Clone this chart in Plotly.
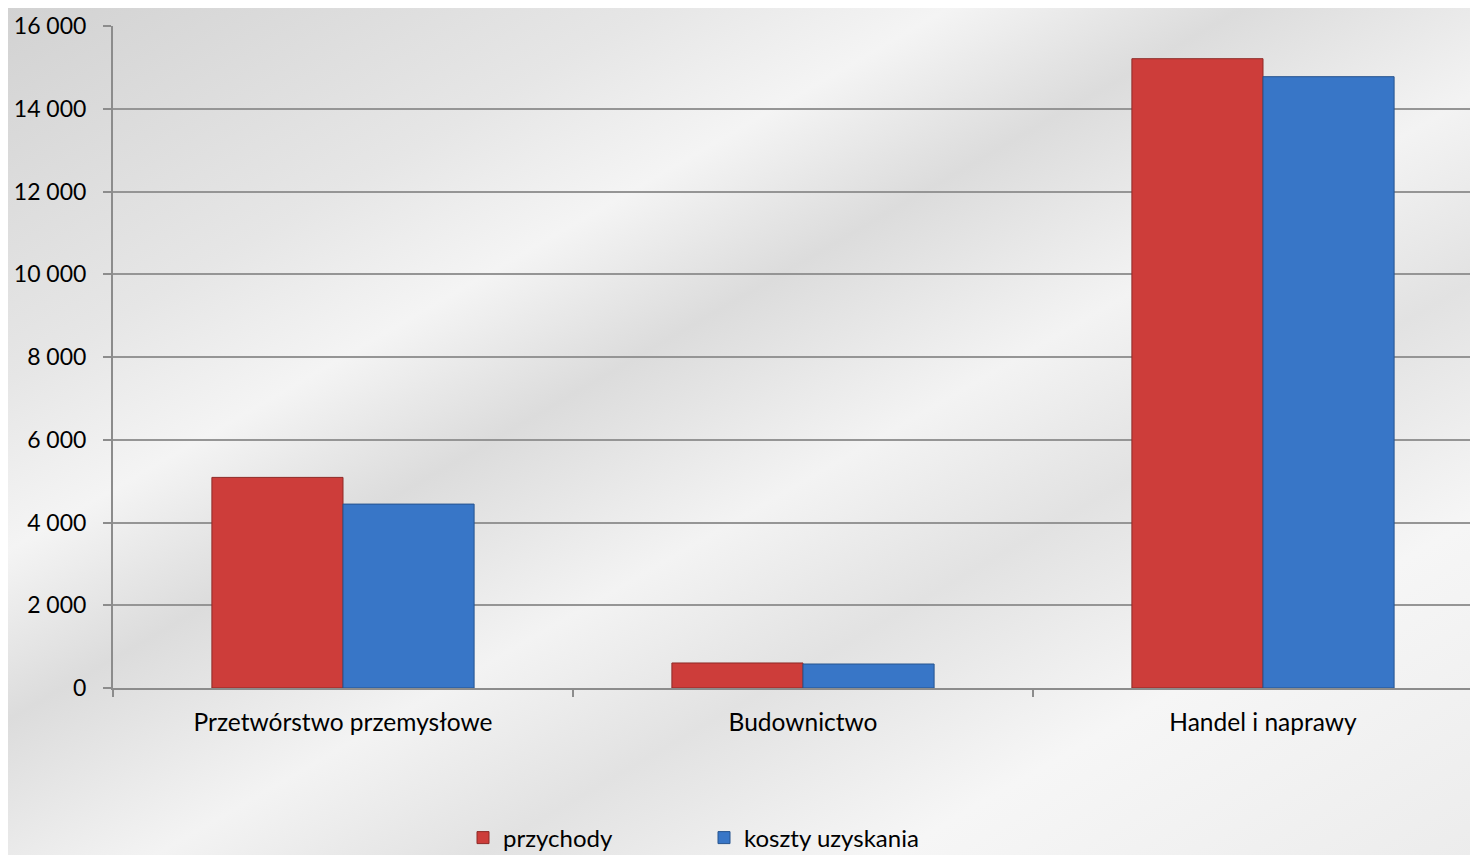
import base64
import plotly.graph_objects as go

categories = ["Przetwórstwo przemysłowe", "Budownictwo", "Handel i naprawy"]
przychody = [5090, 605, 15210]
koszty = [4445, 580, 14775]
series_names = ["przychody", "koszty uzyskania"]
tick_vals = [0, 2000, 4000, 6000, 8000, 10000, 12000, 14000, 16000]
tick_text = ["0", "2 000", "4 000", "6 000", "8 000", "10 000", "12 000", "14 000", "16 000"]

# page body has an 8px margin, so the figure is shifted by 8px
W, H = 1470, 847
ML, MR, MT, MB = 105, 0, 18, 167
PW, PH = W - ML - MR, H - MT - MB

svg = f'''<svg xmlns="http://www.w3.org/2000/svg" width="{W}" height="{H}" viewBox="0 0 {W} {H}" preserveAspectRatio="none">
<defs><linearGradient id="g" x1="0" y1="0" x2="1" y2="1">
<stop offset="0" stop-color="#d2d2d2"/>
<stop offset="0.22" stop-color="#e6e6e6"/>
<stop offset="0.32" stop-color="#f4f4f4"/>
<stop offset="0.42" stop-color="#dcdcdc"/>
<stop offset="0.55" stop-color="#f3f3f3"/>
<stop offset="0.66" stop-color="#e2e2e2"/>
<stop offset="0.8" stop-color="#f6f6f6"/>
<stop offset="1" stop-color="#ececec"/>
</linearGradient></defs>
<rect width="{W}" height="{H}" fill="url(#g)"/></svg>'''
bg_src = "data:image/svg+xml;base64," + base64.b64encode(svg.encode()).decode()

fig = go.Figure()
fig.add_trace(go.Bar(
    x=categories, y=przychody, name=series_names[0],
    marker=dict(color="#cd3d3a", line=dict(color="#8e2a27", width=1)),
))
fig.add_trace(go.Bar(
    x=categories, y=koszty, name=series_names[1],
    marker=dict(color="#3876c7", line=dict(color="#27548f", width=1)),
))

font_family = "Lato, 'Open Sans', sans-serif"
fig.update_layout(
    width=W, height=H,
    margin=dict(l=ML, r=MR, t=MT, b=MB, autoexpand=False),
    paper_bgcolor="#e6e6e6",
    plot_bgcolor="rgba(0,0,0,0)",
    barmode="group", bargap=0.43, bargroupgap=0,
    font=dict(family=font_family, size=23, color="#000000"),
    showlegend=True,
    legend=dict(
        orientation="h", x=(455 - ML) / PW, xanchor="left",
        y=-(830 - (MT + PH)) / PH, yanchor="middle",
        font=dict(size=24, color="#000000"), bgcolor="rgba(0,0,0,0)",
        entrywidth=196, entrywidthmode="pixels", itemwidth=30,
    ),
    images=[dict(
        source=bg_src, xref="paper", yref="paper",
        x=-ML / PW, y=1 + MT / PH, sizex=W / PW, sizey=H / PH,
        xanchor="left", yanchor="top", sizing="stretch", layer="below",
    )],
)
fig.update_xaxes(
    range=[-0.5, 2.5 - 15 / 460],
    showline=True, linecolor="#8c8c8c", linewidth=2,
    ticks="outside", tickson="boundaries", ticklen=7, tickcolor="#8c8c8c", tickwidth=1.5,
    ticklabelstandoff=12, showgrid=False,
    tickfont=dict(size=24.5),
)
fig.update_yaxes(
    range=[0, 16000], tickvals=tick_vals, ticktext=tick_text,
    showline=True, linecolor="#8c8c8c", linewidth=2,
    ticks="outside", ticklen=8, tickcolor="#8c8c8c", tickwidth=1.5,
    showgrid=True, gridcolor="#959595", gridwidth=1.5,
    zeroline=False, ticklabelstandoff=12,
    tickfont=dict(size=23),
)

fig.write_html("out.html")
